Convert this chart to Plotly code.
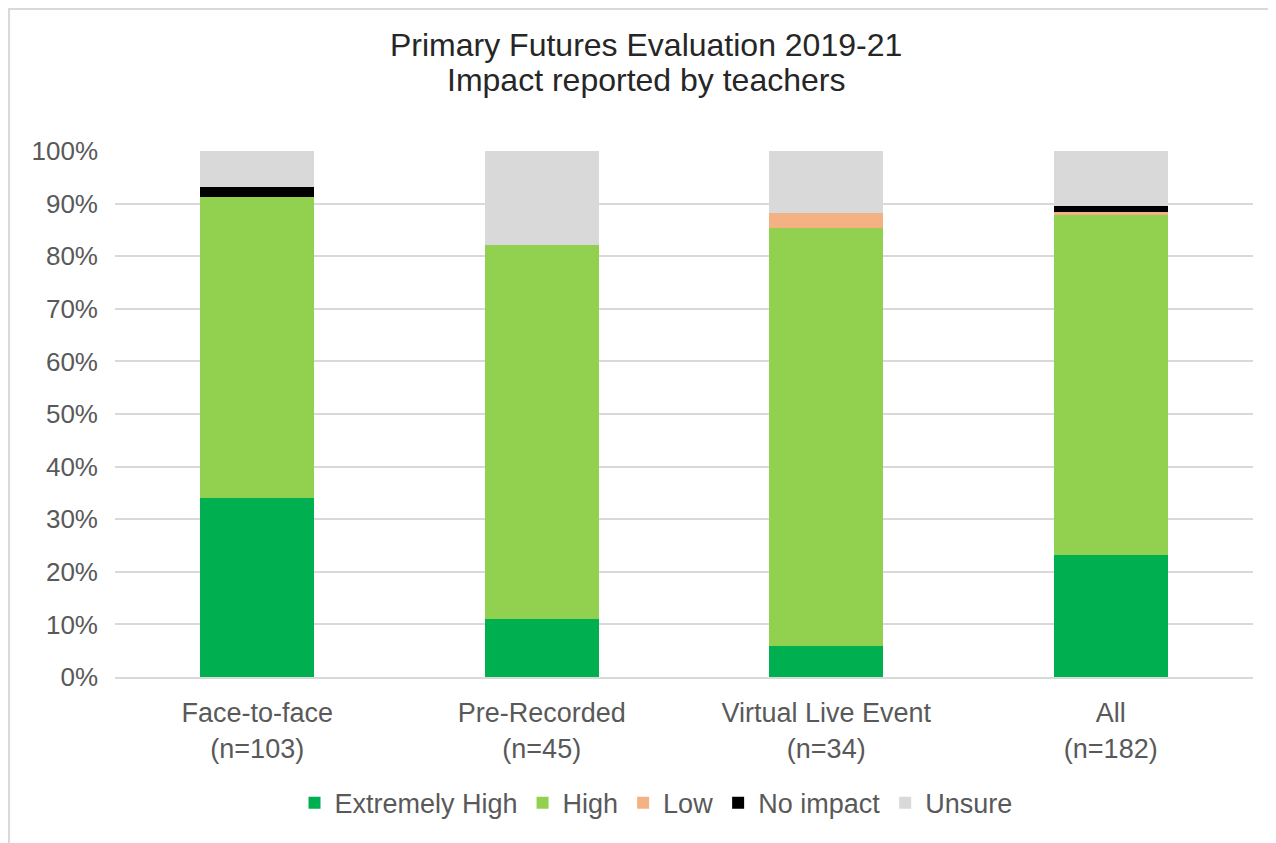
import plotly.graph_objects as go

categories = ["Face-to-face<br>(n=103)", "Pre-Recorded<br>(n=45)", "Virtual Live Event<br>(n=34)", "All<br>(n=182)"]
extremely_high = [0.340, 0.111, 0.059, 0.231]
high = [0.573, 0.711, 0.794, 0.648]
low = [0.000, 0.000, 0.029, 0.005]
no_impact = [0.019, 0.000, 0.000, 0.011]
unsure = [0.068, 0.178, 0.118, 0.105]

title_lines = ["Primary Futures Evaluation 2019-21", "Impact reported by teachers"]

series = [
    ("Extremely High", extremely_high, "#00B050"),
    ("High", high, "#92D050"),
    ("Low", low, "#F4B183"),
    ("No impact", no_impact, "#000000"),
    ("Unsure", unsure, "#D9D9D9"),
]

fig = go.Figure()
for name, vals, color in series:
    fig.add_trace(go.Bar(x=categories, y=vals, name=name, marker=dict(color=color, line=dict(width=0)),
                         hoverinfo="name+y"))

font = "Liberation Sans, Arial, sans-serif"
fig.update_layout(
    barmode="stack",
    bargap=0.6,
    width=1276, height=843,
    margin=dict(l=107, r=31, t=143, b=174),
    paper_bgcolor="white", plot_bgcolor="white",
    font=dict(family=font, color="#595959", size=26),
    yaxis=dict(range=[0, 1], tickformat=".0%", dtick=0.1, showgrid=True, gridcolor="#D9D9D9",
               gridwidth=2, zeroline=False, ticks="", tickfont=dict(size=26, color="#595959"),
               ticklabelstandoff=16),
    xaxis=dict(showline=True, linecolor="#D9D9D9", linewidth=2, ticks="",
               tickfont=dict(size=27, color="#595959"), ticklabelstandoff=11),
    legend=dict(orientation="h", x=0.4754, xanchor="center", y=-0.24, yanchor="middle",
                font=dict(size=27, color="#595959"), traceorder="normal",
                itemwidth=30, tracegroupgap=0),
    shapes=[dict(type="rect", xref="paper", yref="paper", x0=-0.0931, x1=1.05, y0=-0.4, y1=1.27,
                 line=dict(color="#D9D9D9", width=2), fillcolor="rgba(0,0,0,0)", layer="below")],
    annotations=[
        dict(text=title_lines[0], xref="paper", yref="paper", x=0.4666, y=(677 - 45) / 526, xanchor="center",
             yanchor="middle", showarrow=False, font=dict(family=font, size=32, color="#262626")),
        dict(text=title_lines[1], xref="paper", yref="paper", x=0.4666, y=(677 - 80) / 526, xanchor="center",
             yanchor="middle", showarrow=False, font=dict(family=font, size=32, color="#262626")),
    ],
)

fig.write_html("out.html")
